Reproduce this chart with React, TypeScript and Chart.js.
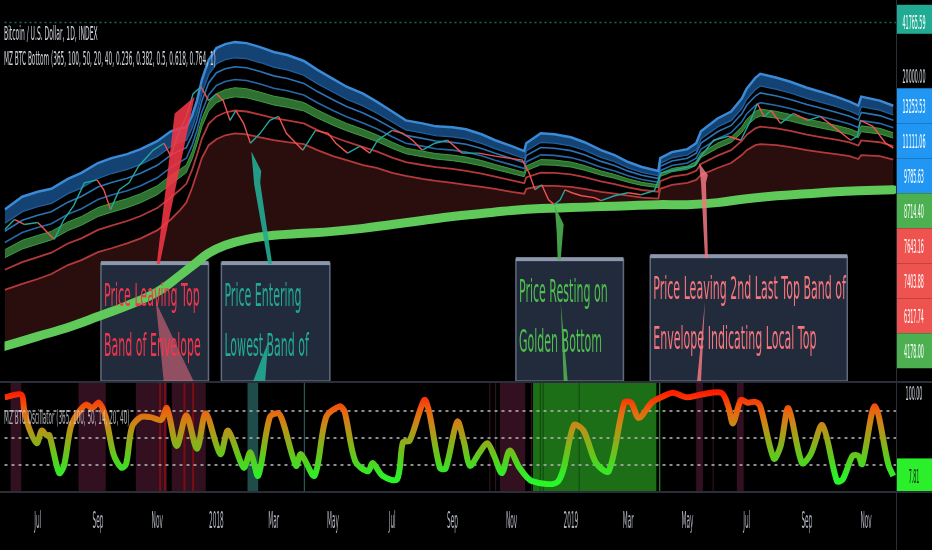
import React, { useEffect, useRef } from 'react';
import { Chart, registerables } from 'chart.js';

Chart.register(...registerables);

// ---------------- DATA (x values are day offsets from 2018-01-01, daily BTC index) ----------------
const tickDays = [-184, -122, -61, 0, 59, 120, 181, 243, 304, 365, 424, 485, 546, 608, 669];
const tickLabels = ['Jul', 'Sep', 'Nov', '2018', 'Mar', 'May', 'Jul', 'Sep', 'Nov', '2019', 'Mar', 'May', 'Jul', 'Sep', 'Nov'];

// envelope (top = blue edge, bottom = lowest red line)
const envDay = [-218, -200, -184, -170, -153, -139, -122, -108, -92, -78, -61, -47, -37, -31, -25, -20, -15, -8, 0, 9, 19, 31, 45, 59, 73, 90, 104, 120, 134, 151, 165, 181, 195, 212, 226, 243, 257, 273, 287, 304, 317, 319, 334, 348, 365, 379, 396, 410, 424, 438, 455, 457, 469, 485, 494, 499, 516, 530, 541, 546, 555, 560, 577, 591, 608, 622, 638, 652, 661, 664, 683, 697];
const envTop = [3178, 3795, 4061, 4230, 4850, 5262, 6030, 6455, 6817, 7297, 8138, 9326, 9715, 9848, 11597, 14227, 18939, 24870, 29290, 30930, 31790, 31360, 29700, 27740, 26630, 24540, 21700, 19200, 17218, 15650, 14035, 12245, 10834, 10400, 9983, 9848, 9583, 8952, 8249, 7601, 7101, 7918, 9075, 8952, 8593, 8027, 7198, 6725, 6113, 5711, 5407, 6455, 7005, 7297, 7918, 9326, 11133, 12245, 14620, 16750, 19460, 20550, 19460, 18430, 16990, 16085, 15025, 14035, 13290, 15025, 14227, 13253.53];
const envBottom = [1054, 1144, 1224, 1311, 1482, 1587, 1769, 1868, 2000, 2141, 2388, 2774, 3178, 3497, 4289, 5262, 6455, 7705, 8363, 8831, 9075, 8952, 8593, 8249, 8027, 7810, 7198, 6632, 6281, 5868, 5633, 5262, 5051, 4850, 4719, 4591, 4468, 4347, 4230, 4061, 3953, 4230, 4407, 4407, 4347, 4230, 4061, 3953, 3846, 3745, 3694, 4230, 4468, 4591, 4783, 5120, 5633, 6030, 6725, 7198, 7705, 7810, 7705, 7498, 7198, 7005, 6817, 6632, 6368, 6725, 6632, 6317.74];
// relative positions of the inner bands between envelope top (0) and bottom (1)
const blueBandLevel = 0.17;
const bandLevels = [0.27, 0.41, 0.5, 0.6, 0.75];

const goldenDay = [-218, -184, -153, -122, -92, -61, -37, -20, -8, 9, 31, 59, 90, 120, 151, 181, 212, 243, 273, 304, 334, 365, 396, 424, 455, 485, 516, 546, 577, 608, 638, 661, 697];
const goldenBottom = [485, 556, 628, 730, 848, 1026, 1293, 1544, 1746, 1946, 2112, 2231, 2293, 2356, 2454, 2591, 2736, 2889, 3010, 3136, 3222, 3266, 3311, 3356, 3403, 3403, 3497, 3694, 3846, 3953, 4061, 4118, 4178];

const priceDay = [-218, -208, -198, -184, -174, -167, -157, -147, -136, -123, -116, -109, -100, -90, -80, -65, -54, -47, -39, -31, -24, -16, -8, 0, 7, 14, 20, 28, 35, 45, 55, 64, 72, 82, 89, 102, 115, 123, 135, 148, 158, 166, 181, 192, 202, 212, 225, 238, 253, 270, 287, 315, 322, 328, 335, 342, 348, 354, 359, 366, 376, 389, 396, 410, 424, 437, 451, 458, 471, 492, 499, 512, 527, 540, 550, 557, 564, 571, 581, 594, 609, 622, 635, 653, 660, 663, 676, 689, 697];
const priceClose = [2420, 2774, 2591, 2662, 2323, 2112, 2774, 3356, 4591, 4783, 4174, 3178, 4174, 4591, 5788, 7198, 7918, 6632, 9075, 11440, 15650, 17218, 14227, 15650, 14227, 10834, 12413, 10400, 7918, 9075, 10834, 11440, 9075, 7918, 7198, 9454, 9075, 7918, 6910, 7601, 6910, 8249, 9454, 9075, 8249, 7198, 7918, 8249, 6910, 6910, 6632, 6281, 5262, 4174, 4468, 3641, 3403, 3641, 4174, 4007, 3846, 3745, 3593, 3846, 4007, 3899, 4118, 5262, 5482, 5788, 6632, 8249, 8711, 8249, 10834, 13655, 11440, 12413, 10400, 11918, 10834, 11440, 9983, 8249, 8711, 10834, 9983, 7918, 7403.88];

const oscDay = [-218, -201, -198, -193, -185, -180, -175, -172, -162, -157, -150, -143, -134, -128, -121, -114, -106, -98, -93, -87, -78, -68, -57, -51, -41, -31, -20, -11, 4, 12, 28, 35, 43, 55, 64, 69, 82, 87, 101, 113, 127, 132, 143, 156, 161, 171, 186, 192, 199, 214, 219, 230, 236, 248, 255, 261, 271, 279, 286, 294, 302, 312, 325, 352, 368, 378, 391, 404, 420, 427, 435, 448, 458, 470, 484, 499, 520, 527, 532, 540, 547, 555, 560, 574, 581, 589, 603, 612, 624, 639, 645, 655, 661, 665, 678, 692, 697];
const oscValue = [95, 98, 81, 61, 44, 58, 53, 53, 11, 19, 62, 77, 87, 83, 89, 73, 32, 17, 21, 62, 73, 73, 70, 83, 41, 75, 38, 77, 32, 58, 17, 34, 8, 73, 77, 66, 19, 32, 8, 73, 85, 79, 24, 13, 22, 8, 4, 45, 47, 92, 79, 17, 16, 68, 45, 19, 34, 44, 30, 11, 36, 17, 2, 2, 64, 58, 22, 13, 89, 89, 72, 89, 95, 100, 95, 98, 100, 85, 66, 92, 89, 90, 85, 27, 41, 83, 22, 32, 64, 2, 4, 30, 30, 21, 85, 20, 7.81];
const oscLevels = [80, 50, 20];
const oscTicks = [100];

const highMarker = 41765.59;
const priceTicks = [20000];
const axisLabelValue = [13253.53, 11111.06, 9785.63, 8714.4, 7643.16, 7403.88, 6317.74, 4178.0];
const axisLabelKind = ['blue', 'blue', 'blue', 'green', 'red', 'red', 'red', 'green'];

// oscillator background highlights (day ranges)
const shadeStart = [-212, -142, -83, -59, -54, -46, -34, -25, 32, 90, 281, 287, 292, 324, 326, 333, 336, 373, 456, 494, 511, 536];
const shadeEnd = [-201, -114, -51, -57, -52, -11, -32, -23, 43, 91, 282, 288, 318, 325, 453, 334, 337, 374, 457, 501, 512, 543];
const shadeKind = ['maroon', 'maroon', 'maroon', 'red', 'red', 'maroon', 'red', 'red', 'teal', 'tealLine', 'maroonLine', 'maroonLine', 'maroon', 'maroonLine', 'green', 'greenDark', 'greenDark', 'greenDark', 'greenLine', 'maroon', 'maroonLine', 'maroon'];

// callout boxes
const calloutStart = [-118.9, 5.1, 308.4, 446.7];
const calloutEnd = [-8.2, 116.8, 419.1, 649.6];
const calloutTop = [1523, 1523, 1608, 1675];
const calloutKind = ['top', 'low', 'golden', 'top2'];
const calloutText = [
  ['Price Leaving Top', 'Band of Envelope'],
  ['Price Entering', 'Lowest Band of'],
  ['Price Resting on', 'Golden Bottom'],
  ['Price Leaving 2nd Last Top Band of', 'Envelope Indicating Local Top'],
];
// callout pointers (polygons in day / price)
const arrowKind = ['top', 'topInner', 'low', 'low', 'golden', 'golden', 'top2', 'top2'];
const arrowDays = [
  [-61.5, -43.0, -22.5, -58.4],
  [-62.5, -54.3, -23.6],
  [35.9, 46.1, 45.1, 57.4, 53.3, 38.9],
  [53.3, 50.2, 37.9],
  [348.4, 357.6, 356.6, 354.5, 351.4, 350.4],
  [354.5, 361.7, 357.6],
  [496.9, 506.1, 504.1, 506.1, 503.1, 499.0],
  [503.1, 499.0, 494.9],
];
const arrowPrices = [
  [1502, 11918, 15025, 1502],
  [895, 301, 301],
  [7101, 5407, 4591, 1502, 1502, 4468],
  [519, 301, 301],
  [3356, 2591, 2231, 1587, 1587, 2323],
  [895, 301, 301],
  [6030, 5120, 4591, 1631, 1631, 4591],
  [895, 301, 301],
];

// ---------------- STYLE ----------------
const FONT = '"DejaVu Sans", "Liberation Sans", sans-serif';
const X_MIN = -218.24;
const X_MAX = 699.79;
const Y_MIN = 300.9;
const Y_MAX = 53338;
const OSC_MIN = -10;
const OSC_MAX = 113;
const GOLDEN_INDEX = 8;
const LABEL_H = 35;
const UP = '#26a69a';
const DOWN = '#ef5350';
const SHADE_COLORS = {
  maroon: '#331020', red: '#7d0d12', teal: '#1d4c49', tealLine: '#2b6e69',
  maroonLine: '#3d1422', green: '#1c6e17', greenDark: '#0f4a0d', greenLine: '#2fa02f',
};
const LABEL_COLORS = { blue: '#2196f3', green: '#4caf50', red: '#ef5350' };
const CALLOUT_COLORS = { top: '#f4364c', low: '#22ab94', golden: '#4fbf4f', top2: '#f7767e' };
const ARROW_COLORS = {
  top: 'rgba(242,54,69,0.88)', topInner: 'rgba(240,110,130,0.55)', low: 'rgba(34,171,148,0.9)',
  golden: 'rgba(76,175,80,0.9)', top2: 'rgba(242,120,130,0.85)',
};
const OSC_STOPS = [[100, '#ff1a00'], [90, '#f53f08'], [78, '#e8680f'], [64, '#c98916'], [50, '#9fa31a'], [36, '#74bd1c'], [22, '#4cd620'], [6, '#2df02a'], [-10, '#22ff22']];

function squishText(ctx, text, x, y, size, sx, color, align = 'left') {
  ctx.save();
  ctx.font = `${size}px ${FONT}`;
  ctx.fillStyle = color;
  ctx.textAlign = 'left';
  ctx.textBaseline = 'alphabetic';
  const w = ctx.measureText(text).width * sx;
  const left = align === 'center' ? x - w / 2 : align === 'right' ? x - w : x;
  ctx.translate(left, y);
  ctx.scale(sx, 1);
  ctx.fillText(text, 0, 0);
  ctx.restore();
}

const pts = (xs, ys) => xs.map((x, i) => ({ x, y: ys[i] }));
const band = (level) =>
  envDay.map((d, i) => ({
    x: d,
    y: Math.exp(Math.log(envTop[i]) + level * (Math.log(envBottom[i]) - Math.log(envTop[i]))),
  }));

const overlay = {
  id: 'tvOverlay',
  beforeDraw(chart) {
    const { ctx, width, height } = chart;
    ctx.save();
    ctx.fillStyle = '#000000';
    ctx.fillRect(0, 0, width, height);
    ctx.restore();
  },
  beforeDatasetsDraw(chart) {
    const { ctx, chartArea } = chart;
    const xs = chart.scales.x;
    const ys = chart.scales.y;
    const os = chart.scales.yOsc;
    ctx.save();
    for (let i = 0; i < shadeStart.length; i++) {
      const x1 = xs.getPixelForValue(shadeStart[i]);
      const x2 = xs.getPixelForValue(shadeEnd[i]);
      ctx.fillStyle = SHADE_COLORS[shadeKind[i]];
      ctx.fillRect(x1, os.top, Math.max(1, x2 - x1), os.bottom - os.top);
    }
    ctx.setLineDash([3, 4]);
    ctx.lineWidth = 2;
    ctx.strokeStyle = 'rgba(175,175,175,0.8)';
    oscLevels.forEach((v) => {
      const y = Math.round(os.getPixelForValue(v));
      ctx.beginPath();
      ctx.moveTo(chartArea.left, y);
      ctx.lineTo(chartArea.right, y);
      ctx.stroke();
    });
    ctx.setLineDash([2, 3]);
    ctx.lineWidth = 1.5;
    ctx.strokeStyle = '#1b6b5a';
    const hy = Math.round(ys.getPixelForValue(highMarker)) + 0.5;
    ctx.beginPath();
    ctx.moveTo(chartArea.left, hy);
    ctx.lineTo(chartArea.right, hy);
    ctx.stroke();
    ctx.restore();
  },
  beforeDatasetDraw(chart, args) {
    if (args.index !== GOLDEN_INDEX) return;
    const { ctx } = chart;
    const xs = chart.scales.x;
    const ys = chart.scales.y;
    ctx.save();
    for (let i = 0; i < calloutStart.length; i++) {
      const x1 = xs.getPixelForValue(calloutStart[i]);
      const x2 = xs.getPixelForValue(calloutEnd[i]);
      const yt = ys.getPixelForValue(calloutTop[i]);
      const yb = ys.bottom;
      ctx.fillStyle = '#212b3b';
      ctx.fillRect(x1, yt, x2 - x1, yb - yt);
      ctx.strokeStyle = '#5f6b7e';
      ctx.lineWidth = 1.5;
      ctx.strokeRect(x1, yt, x2 - x1, yb - yt);
      ctx.fillStyle = '#8b97aa';
      ctx.fillRect(x1, yt - 2, x2 - x1, 4);
    }
    ctx.restore();
  },
  afterDatasetsDraw(chart) {
    const { ctx } = chart;
    const xs = chart.scales.x;
    const ys = chart.scales.y;
    ctx.save();
    for (let a = 0; a < arrowDays.length; a++) {
      ctx.beginPath();
      arrowDays[a].forEach((d, k) => {
        const px = xs.getPixelForValue(d);
        const py = ys.getPixelForValue(arrowPrices[a][k]);
        if (k === 0) ctx.moveTo(px, py);
        else ctx.lineTo(px, py);
      });
      ctx.closePath();
      ctx.fillStyle = ARROW_COLORS[arrowKind[a]];
      ctx.fill();
    }
    ctx.restore();
    for (let i = 0; i < calloutStart.length; i++) {
      const x1 = xs.getPixelForValue(calloutStart[i]);
      const yt = ys.getPixelForValue(calloutTop[i]);
      calloutText[i].forEach((line, k) => {
        squishText(ctx, line, x1 + 3, yt + 43 + k * 50, 32, 0.345, CALLOUT_COLORS[calloutKind[i]]);
      });
    }
  },
  afterDraw(chart) {
    const { ctx, chartArea, width, height } = chart;
    const xs = chart.scales.x;
    const ys = chart.scales.y;
    const os = chart.scales.yOsc;
    ctx.save();
    ctx.fillStyle = '#2a2e39';
    ctx.fillRect(0, Math.round(ys.bottom), width, 2);
    ctx.fillRect(0, Math.round(os.bottom) - 1, width, 2);
    ctx.fillRect(Math.round(chartArea.right), 0, 1, height);
    ctx.restore();

    // legends
    squishText(ctx, 'Bitcoin / U.S. Dollar, 1D, INDEX', 4, 40, 19, 0.318, '#d1d4dc');
    squishText(ctx, 'MZ BTC Bottom (365, 100, 50, 20, 40, 0.236, 0.382, 0.5, 0.618, 0.764, 1)', 4, 65, 19, 0.305, '#d1d4dc');
    squishText(ctx, 'MZ BTC Oscillator (365, 100, 50, 14, 20, 40)', 4, 424, 19, 0.3, 'rgba(209,212,220,0.8)');

    // x labels
    tickDays.forEach((d, i) => {
      squishText(ctx, tickLabels[i], xs.getPixelForValue(d), 528, 23, 0.25, '#b2b5be', 'center');
    });

    const ax = chartArea.right;
    const aw = width - ax;
    const cx = ax + aw / 2;
    priceTicks.forEach((v) => {
      squishText(ctx, v.toFixed(2), cx, ys.getPixelForValue(v) + 7, 20, 0.24, '#d1d4dc', 'center');
    });
    const hy = ys.getPixelForValue(highMarker);
    const hTop = Math.max(0, hy - LABEL_H / 2);
    ctx.save();
    ctx.fillStyle = '#22ab94';
    ctx.fillRect(ax + 1, hTop, aw, hy + LABEL_H / 2 - hTop - 6);
    ctx.restore();
    squishText(ctx, highMarker.toFixed(2), cx, hy + 7, 20, 0.24, '#ffffff', 'center');

    const order = axisLabelValue.map((v, i) => ({ i, y: ys.getPixelForValue(v) })).sort((a, b) => a.y - b.y);
    for (let k = 1; k < order.length; k++) {
      if (order[k].y < order[k - 1].y + LABEL_H) order[k].y = order[k - 1].y + LABEL_H;
    }
    const maxY = ys.bottom - LABEL_H / 2;
    for (let k = order.length - 1; k >= 0; k--) {
      const lim = k === order.length - 1 ? maxY : order[k + 1].y - LABEL_H;
      if (order[k].y > lim) order[k].y = lim;
    }
    order.forEach(({ i, y }) => {
      ctx.save();
      ctx.fillStyle = LABEL_COLORS[axisLabelKind[i]];
      ctx.fillRect(ax + 1, y - LABEL_H / 2, aw, LABEL_H);
      ctx.restore();
      squishText(ctx, axisLabelValue[i].toFixed(2), cx, y + 7, 20, 0.24, '#ffffff', 'center');
    });

    oscTicks.forEach((v) => {
      squishText(ctx, v.toFixed(2), cx, os.getPixelForValue(v) + 7, 20, 0.24, '#d1d4dc', 'center');
    });
    const last = oscValue[oscValue.length - 1];
    const oy = os.getPixelForValue(last);
    const top = oy - LABEL_H / 2;
    const bottom = Math.min(os.bottom - 1, oy + LABEL_H / 2);
    ctx.save();
    ctx.fillStyle = '#2bef2b';
    ctx.fillRect(ax + 1, top, aw, bottom - top);
    ctx.restore();
    squishText(ctx, last.toFixed(2), cx, oy + 7, 20, 0.24, '#15181f', 'center');
  },
};

function oscGradient(c) {
  const ch = c.chart;
  const s = ch && ch.scales && ch.scales.yOsc;
  if (!s) return '#8fb020';
  const y0 = s.getPixelForValue(100);
  const y1 = s.getPixelForValue(-10);
  if (!isFinite(y0) || !isFinite(y1) || y0 === y1) return '#8fb020';
  const g = ch.ctx.createLinearGradient(0, y0, 0, y1);
  OSC_STOPS.forEach(([v, col]) => g.addColorStop((100 - v) / 110, col));
  return g;
}

export default function App() {
  const ref = useRef(null);

  useEffect(() => {
    const canvas = ref.current;
    if (!canvas) return;
    const thin = (data, color, width) => ({
      data, borderColor: color, borderWidth: width, pointRadius: 0, fill: false, tension: 0, yAxisID: 'y',
    });
    const chart = new Chart(canvas, {
      type: 'line',
      data: {
        datasets: [
          {
            label: 'price', data: pts(priceDay, priceClose), yAxisID: 'y', borderWidth: 1.4, pointRadius: 0,
            borderColor: DOWN, fill: false, tension: 0,
            segment: { borderColor: (c) => (c.p1.parsed.y >= c.p0.parsed.y ? UP : DOWN) },
          },
          { ...thin(pts(envDay, envTop), '#3a8ad6', 2.5), label: 'top band', fill: '+1', backgroundColor: 'rgba(22,78,135,0.85)' },
          { ...thin(band(blueBandLevel), '#2668a6', 1.5), label: 'top band low' },
          { ...thin(band(bandLevels[0]), '#2b74b8', 1.6), label: 'blue 2' },
          { ...thin(band(bandLevels[1]), '#2669a8', 1.6), label: 'blue 3' },
          { ...thin(band(bandLevels[2]), '#3e9b3e', 1), label: 'green top', fill: '+1', backgroundColor: 'rgba(67,160,71,0.7)' },
          { ...thin(band(bandLevels[3]), '#3e9b3e', 1), label: 'green low' },
          { ...thin(band(bandLevels[4]), '#b3393b', 1.8), label: 'red 1' },
          { ...thin(pts(goldenDay, goldenBottom), '#5fc95a', 9), label: 'golden bottom', tension: 0.4, borderCapStyle: 'round' },
          { ...thin(pts(envDay, envBottom), '#b3393b', 1.8), label: 'envelope bottom', fill: GOLDEN_INDEX, backgroundColor: '#2a0e0e' },
          {
            label: 'oscillator', data: pts(oscDay, oscValue), yAxisID: 'yOsc', borderWidth: 6, pointRadius: 0,
            fill: false, tension: 0.3, borderColor: '#8fb020',
          },
        ],
      },
      options: {
        animation: false,
        responsive: false,
        maintainAspectRatio: false,
        events: [],
        layout: { padding: 0 },
        plugins: { legend: { display: false }, tooltip: { enabled: false } },
        scales: {
          x: {
            type: 'linear', min: X_MIN, max: X_MAX, bounds: 'data',
            grid: { display: false }, border: { display: false }, ticks: { display: false },
            afterFit: (s) => { s.height = 58; },
          },
          y: {
            type: 'logarithmic', position: 'right', stack: 'panes', stackWeight: 380,
            min: Y_MIN, max: Y_MAX, bounds: 'data',
            grid: { display: false }, border: { display: false }, ticks: { display: false },
            afterFit: (s) => { s.width = 36; },
          },
          yOsc: {
            type: 'linear', position: 'right', stack: 'panes', stackWeight: 112,
            min: OSC_MIN, max: OSC_MAX, bounds: 'data',
            grid: { display: false }, border: { display: false }, ticks: { display: false },
            afterFit: (s) => { s.width = 36; },
          },
        },
      },
      plugins: [overlay],
    });
    // apply the value gradient once the panes are laid out
    chart.data.datasets[10].borderColor = oscGradient({ chart });
    chart.update('none');
    return () => chart.destroy();
  }, []);

  return (
    <div style={{ position: 'absolute', left: 0, top: 0, width: 932, height: 550, background: '#000' }}>
      <canvas ref={ref} width={932} height={550} style={{ display: 'block' }} />
    </div>
  );
}
